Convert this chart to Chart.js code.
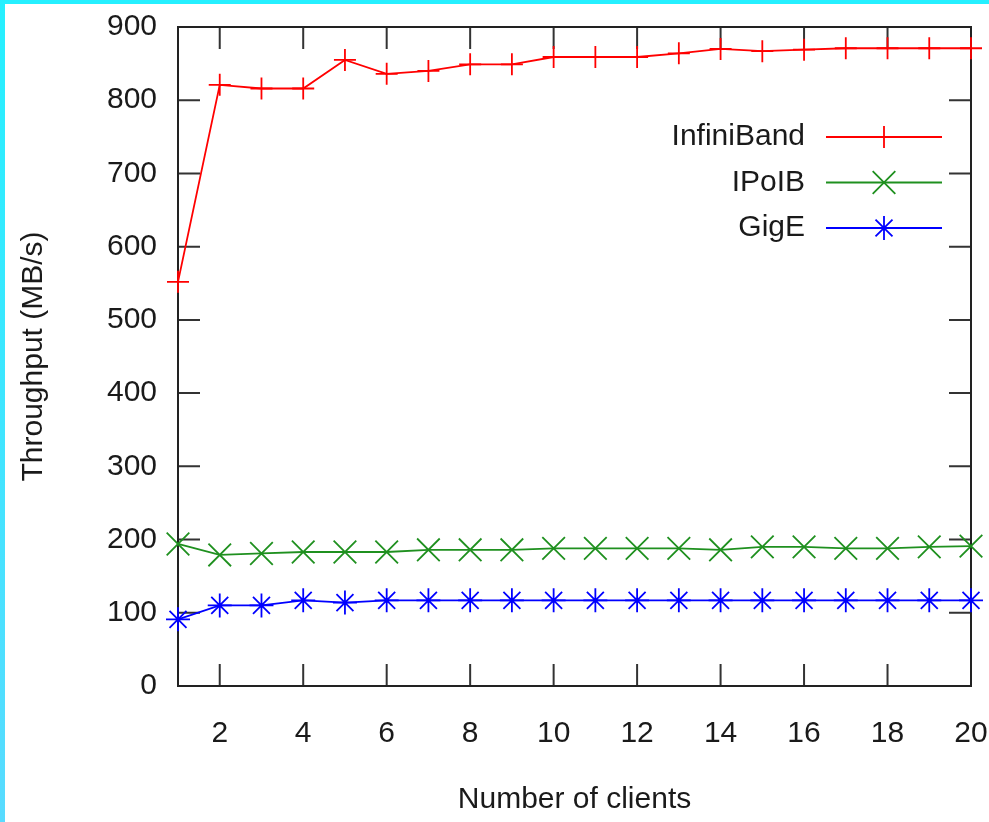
<!DOCTYPE html>
<html lang="en">
<head>
  <meta charset="UTF-8" />
  <title>Throughput vs clients</title>
  <script src="https://cdn.jsdelivr.net/npm/chart.js"></script>
  <style>
    html, body {
      margin: 0;
      width: 989px;
      height: 822px;
      overflow: hidden;
      background: linear-gradient(to bottom, #25f0ff, #58dbff);
    }
    #frame {
      position: absolute;
      left: 5px;
      top: 4px;
      width: 984px;
      height: 818px;
      background: #fff;
    }
  </style>
</head>
<body>
  <div id="frame"><canvas id="tputChart" width="984" height="818"></canvas></div>

  <script>
    const clients = [1, 2, 3, 4, 5, 6, 7, 8, 9, 10, 11, 12, 13, 14, 15, 16, 17, 18, 19, 20];
    const infiniband = [552, 821, 816, 816, 855, 836, 840, 849, 849, 859, 859, 859, 864, 870, 867, 869, 871, 871, 871, 871];
    const ipoib = [194, 179, 181, 183, 183, 183, 186, 186, 186, 188, 188, 188, 188, 186, 190, 190, 188, 188, 190, 191];
    const gige = [91, 110, 110, 117, 114, 117, 117, 117, 117, 117, 117, 117, 117, 117, 117, 117, 117, 117, 117, 117];
    const xTicks = [2, 4, 6, 8, 10, 12, 14, 16, 18, 20];
    const yTicks = [0, 100, 200, 300, 400, 500, 600, 700, 800, 900];

    const FONT = "'Liberation Sans', Arial, sans-serif";
    const TEXT = '#1a1a1a';

    function series(label, values, color, style, radius) {
      return {
        label,
        data: clients.map((c, i) => ({ x: c, y: values[i] })),
        borderColor: color,
        backgroundColor: color,
        borderWidth: 1.8,
        pointStyle: style,
        pointRadius: radius,
        pointBorderWidth: 1.8,
        pointHoverRadius: radius,
        tension: 0,
        clip: false
      };
    }

    // gnuplot style box: border plus inward ticks on all four sides
    const boxPlugin = {
      id: 'box',
      beforeDatasetsDraw(chart) {
        const { ctx, chartArea: a, scales: { x, y } } = chart;
        const len = 22;
        ctx.save();
        ctx.strokeStyle = '#333';
        ctx.lineWidth = 2;
        ctx.beginPath();
        xTicks.forEach(v => {
          const px = x.getPixelForValue(v);
          ctx.moveTo(px, a.bottom); ctx.lineTo(px, a.bottom - len);
          ctx.moveTo(px, a.top); ctx.lineTo(px, a.top + len);
        });
        yTicks.forEach(v => {
          const py = y.getPixelForValue(v);
          ctx.moveTo(a.left, py); ctx.lineTo(a.left + len, py);
          ctx.moveTo(a.right, py); ctx.lineTo(a.right - len, py);
        });
        ctx.stroke();
        ctx.strokeStyle = '#222';
        ctx.strokeRect(a.left, a.top, a.right - a.left, a.bottom - a.top);
        ctx.restore();
      }
    };

    // legend inside the plot, text to the left of the sample line
    const keyPlugin = {
      id: 'key',
      afterDatasetsDraw(chart) {
        const { ctx, chartArea: a } = chart;
        ctx.save();
        ctx.font = '30px ' + FONT;
        ctx.textAlign = 'right';
        ctx.textBaseline = 'middle';
        chart.data.datasets.forEach((ds, i) => {
          const yy = a.top + 110 + i * 45.5;
          const x0 = a.right - 145, x1 = a.right - 29;
          ctx.fillStyle = TEXT;
          ctx.fillText(ds.label, a.right - 166, yy);
          ctx.strokeStyle = ds.borderColor;
          ctx.lineWidth = ds.borderWidth;
          ctx.beginPath();
          ctx.moveTo(x0, yy); ctx.lineTo(x1, yy);
          ctx.stroke();
          if (Chart.helpers && Chart.helpers.drawPoint) {
            ctx.lineWidth = ds.pointBorderWidth;
            ctx.fillStyle = ds.borderColor;
            Chart.helpers.drawPoint(ctx, {
              pointStyle: ds.pointStyle, radius: ds.pointRadius,
              borderWidth: ds.pointBorderWidth, rotation: 0
            }, (x0 + x1) / 2, yy);
          }
        });
        ctx.restore();
      }
    };

    new Chart(document.getElementById('tputChart').getContext('2d'), {
      type: 'line',
      data: {
        datasets: [
          series('InfiniBand', infiniband, '#ff0000', 'cross', 11),
          series('IPoIB', ipoib, '#1f901f', 'crossRot', 16),
          series('GigE', gige, '#0000ff', 'star', 12)
        ]
      },
      options: {
        responsive: false,
        animation: false,
        events: [],
        layout: { padding: { top: 23, right: 18, left: 0, bottom: 0 } },
        plugins: {
          legend: { display: false },
          tooltip: { enabled: false }
        },
        scales: {
          x: {
            type: 'linear',
            min: 1,
            max: 20,
            afterBuildTicks: s => { s.ticks = xTicks.map(v => ({ value: v })); },
            afterFit: s => { s.height = 136; s.paddingLeft = 0; s.paddingRight = 0; },
            grid: { display: false, drawTicks: false },
            border: { display: false },
            ticks: { color: TEXT, font: { family: FONT, size: 30 }, padding: 30, maxRotation: 0 },
            title: {
              display: true, text: 'Number of clients', color: TEXT,
              font: { family: FONT, size: 30 }, padding: { top: 0, bottom: 4 }
            }
          },
          y: {
            min: 0,
            max: 900,
            afterBuildTicks: s => { s.ticks = yTicks.map(v => ({ value: v })); },
            afterFit: s => { s.width = 173; s.paddingTop = 0; s.paddingBottom = 0; },
            grid: { display: false, drawTicks: false },
            border: { display: false },
            ticks: { color: TEXT, font: { family: FONT, size: 30 }, padding: 21 },
            title: {
              display: true, text: 'Throughput (MB/s)', color: TEXT,
              font: { family: FONT, size: 30 }, padding: { top: 11, bottom: 0 }
            }
          }
        }
      },
      plugins: [boxPlugin, keyPlugin]
    });
  </script>
</body>
</html>
